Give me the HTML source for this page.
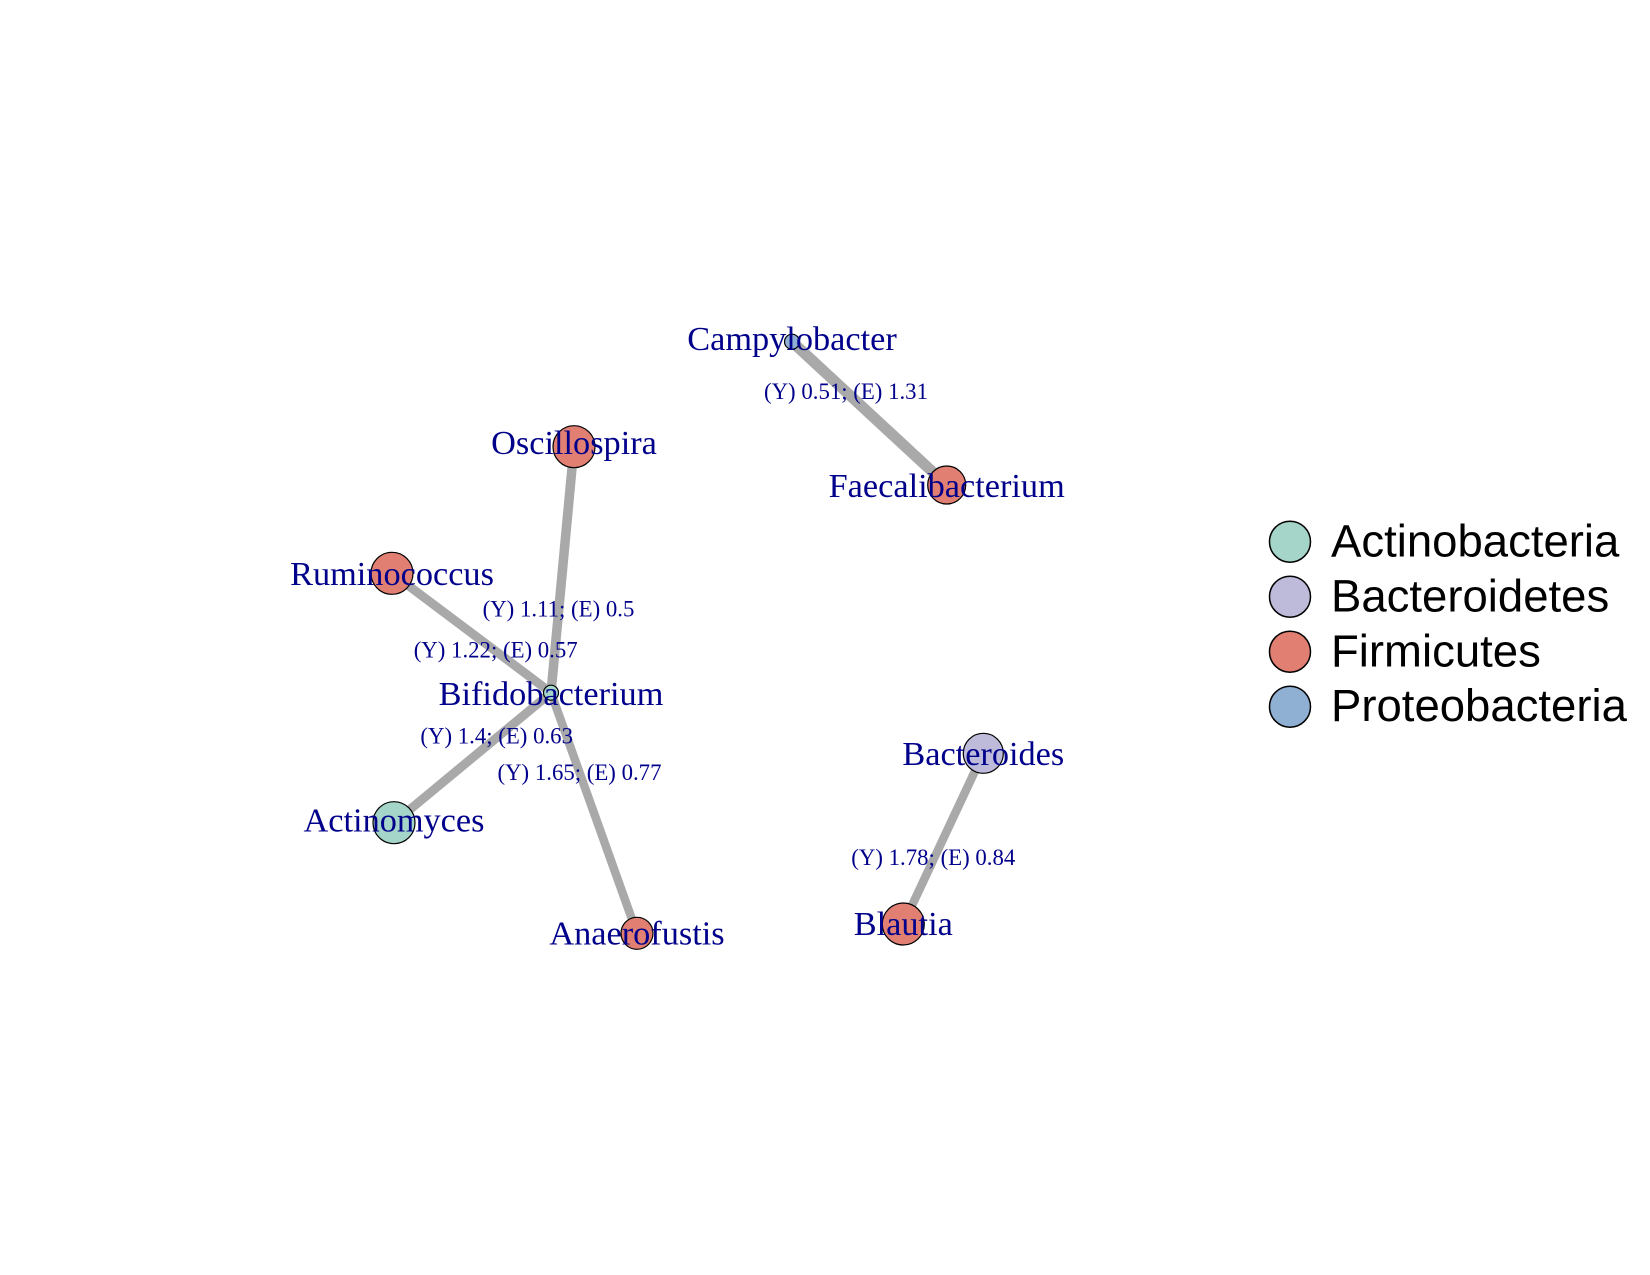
<!DOCTYPE html>
<html>
<head>
<meta charset="utf-8">
<style>
  html, body { margin:0; padding:0; background:#ffffff; }
  svg { display:block; }
  .nl { font-family:"Liberation Serif", serif; font-size:34.3px; fill:#00008B; text-anchor:middle; }
  .el { font-family:"Liberation Serif", serif; font-size:22.8px; fill:#00008B; text-anchor:middle; }
  .lg { font-family:"Liberation Sans", sans-serif; font-size:45.5px; fill:#000000; }
</style>
</head>
<body>
<svg width="1650" height="1275" viewBox="0 0 1650 1275" xmlns="http://www.w3.org/2000/svg">
  <rect x="0" y="0" width="1650" height="1275" fill="#ffffff"/>
  <!-- edges -->
  <g stroke="#a9a9a9" stroke-linecap="butt" fill="none">
    <line x1="792" y1="341.7" x2="946.7" y2="485" stroke-width="11"/>
    <line x1="574" y1="446.7" x2="551" y2="692.7" stroke-width="9.5"/>
    <line x1="392" y1="573.3" x2="551" y2="692.7" stroke-width="9"/>
    <line x1="394" y1="822.7" x2="551" y2="692.7" stroke-width="9"/>
    <line x1="637" y1="933.3" x2="551" y2="692.7" stroke-width="8.5"/>
    <line x1="983.3" y1="753.3" x2="903.3" y2="924" stroke-width="8.5"/>
  </g>
  <!-- nodes -->
  <g stroke="#000000" stroke-width="1.2">
    <circle cx="792" cy="341.7" r="7.5" fill="#8FB0D2"/>
    <circle cx="946.7" cy="485" r="19" fill="#E07F72"/>
    <circle cx="574" cy="446.7" r="21" fill="#E07F72"/>
    <circle cx="392" cy="573.3" r="21" fill="#E07F72"/>
    <circle cx="551" cy="692.7" r="7.5" fill="#A5D5C8"/>
    <circle cx="394" cy="822.7" r="21" fill="#A5D5C8"/>
    <circle cx="637" cy="933.3" r="16" fill="#E07F72"/>
    <circle cx="983.3" cy="753.3" r="20" fill="#BEBADA"/>
    <circle cx="903.3" cy="924" r="21" fill="#E07F72"/>
  </g>
  <!-- node labels -->
  <text class="nl" x="792" y="350">Campylobacter</text>
  <text class="nl" x="946.7" y="497">Faecalibacterium</text>
  <text class="nl" x="574" y="454">Oscillospira</text>
  <text class="nl" x="392" y="585">Ruminococcus</text>
  <text class="nl" x="551" y="705">Bifidobacterium</text>
  <text class="nl" x="394" y="831.7">Actinomyces</text>
  <text class="nl" x="637" y="944.3">Anaerofustis</text>
  <text class="nl" x="983.3" y="765">Bacteroides</text>
  <text class="nl" x="903.3" y="935">Blautia</text>
  <!-- edge labels -->
  <text class="el" x="846" y="399">(Y) 0.51; (E) 1.31</text>
  <text class="el" x="558.5" y="616.7">(Y) 1.11; (E) 0.5</text>
  <text class="el" x="495.7" y="657.7">(Y) 1.22; (E) 0.57</text>
  <text class="el" x="496.7" y="743.3">(Y) 1.4; (E) 0.63</text>
  <text class="el" x="579.5" y="780">(Y) 1.65; (E) 0.77</text>
  <text class="el" x="933.3" y="865">(Y) 1.78; (E) 0.84</text>
  <!-- legend -->
  <g stroke="#000000" stroke-width="1.5">
    <circle cx="1290" cy="541.7" r="20.5" fill="#A5D5C8"/>
    <circle cx="1290" cy="596.7" r="20.5" fill="#BEBADA"/>
    <circle cx="1290" cy="651.7" r="20.5" fill="#E07F72"/>
    <circle cx="1290" cy="706.7" r="20.5" fill="#8FB0D2"/>
  </g>
  <text class="lg" x="1331" y="556.5">Actinobacteria</text>
  <text class="lg" x="1331" y="611.5">Bacteroidetes</text>
  <text class="lg" x="1331" y="666.5">Firmicutes</text>
  <text class="lg" x="1331" y="721">Proteobacteria</text>
</svg>
</body>
</html>
